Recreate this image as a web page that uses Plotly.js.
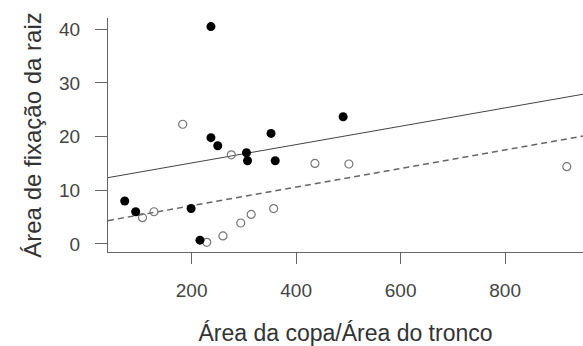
<!DOCTYPE html>
<html>
<head>
<meta charset="utf-8">
<script src="https://cdn.plot.ly/plotly-3.0.1.min.js"></script>
<style>html,body{margin:0;padding:0;background:#fff;}#chart{width:583px;height:346px;}</style>
</head>
<body>
<div id="chart"></div>
<script>
// Filled points (solid regression line)
const filledX = [72, 93, 237, 237, 250, 199, 216, 305, 307, 352, 360, 490];
const filledY = [8.0, 6.0, 40.5, 19.8, 18.3, 6.6, 0.7, 17.0, 15.5, 20.6, 15.5, 23.7];
// Open points (dashed regression line)
const openX = [106, 128, 183, 229, 260, 276, 294, 314, 357, 436, 501, 918];
const openY = [4.9, 6.0, 22.3, 0.3, 1.5, 16.6, 3.9, 5.5, 6.6, 15.0, 14.9, 14.4];
// Regression fits: [intercept, slope]
const solidFit = [11.67, 0.0171];
const dashedFit = [3.65, 0.01734];
const xTicks = [200, 400, 600, 800];
const yTicks = [0, 10, 20, 30, 40];
const xRange = [40, 949];
const yRange = [-1.5, 42.1];

const fitLine = (f) => ({x: xRange, y: xRange.map(v => f[0] + f[1] * v)});
const sl = fitLine(solidFit), dl = fitLine(dashedFit);

const traces = [
  {x: sl.x, y: sl.y, mode: 'lines', line: {color: '#444', width: 1}, hoverinfo: 'skip'},
  {x: dl.x, y: dl.y, mode: 'lines', line: {color: '#666', width: 1.5, dash: '6px,4px'}, hoverinfo: 'skip'},
  {x: openX, y: openY, mode: 'markers', marker: {size: 8, color: 'rgba(0,0,0,0)', line: {color: '#777', width: 1.2}}},
  {x: filledX, y: filledY, mode: 'markers', marker: {size: 9, color: '#000', line: {width: 0}}}
];

const font = {family: 'Liberation Sans, Arial, sans-serif', color: '#444'};
const layout = {
  width: 583, height: 346,
  margin: {l: 108, r: 0, t: 18, b: 94},
  paper_bgcolor: '#fff', plot_bgcolor: '#fff',
  showlegend: false,
  font: font,
  xaxis: {
    range: xRange, tickvals: xTicks, ticks: 'outside', ticklen: 11, tickcolor: '#666', tickwidth: 1,
    showline: true, linecolor: '#666', linewidth: 1, showgrid: false, zeroline: false,
    tickfont: {size: 19, color: '#444', family: font.family}, ticklabelstandoff: 10,
    title: {text: 'Área da copa/Área do tronco', font: {size: 23, color: '#333', family: font.family}, standoff: 28}
  },
  yaxis: {
    range: yRange, tickvals: yTicks, ticks: 'outside', ticklen: 12, tickcolor: '#666', tickwidth: 1,
    showline: true, linecolor: '#666', linewidth: 1, showgrid: false, zeroline: false,
    tickfont: {size: 19, color: '#444', family: font.family}, ticklabelstandoff: 11,
    title: {text: 'Área de fixação da raiz', font: {size: 24, color: '#333', family: font.family}, standoff: 10}
  }
};
Plotly.newPlot('chart', traces, layout, {displayModeBar: false, staticPlot: true});
</script>
</body>
</html>
